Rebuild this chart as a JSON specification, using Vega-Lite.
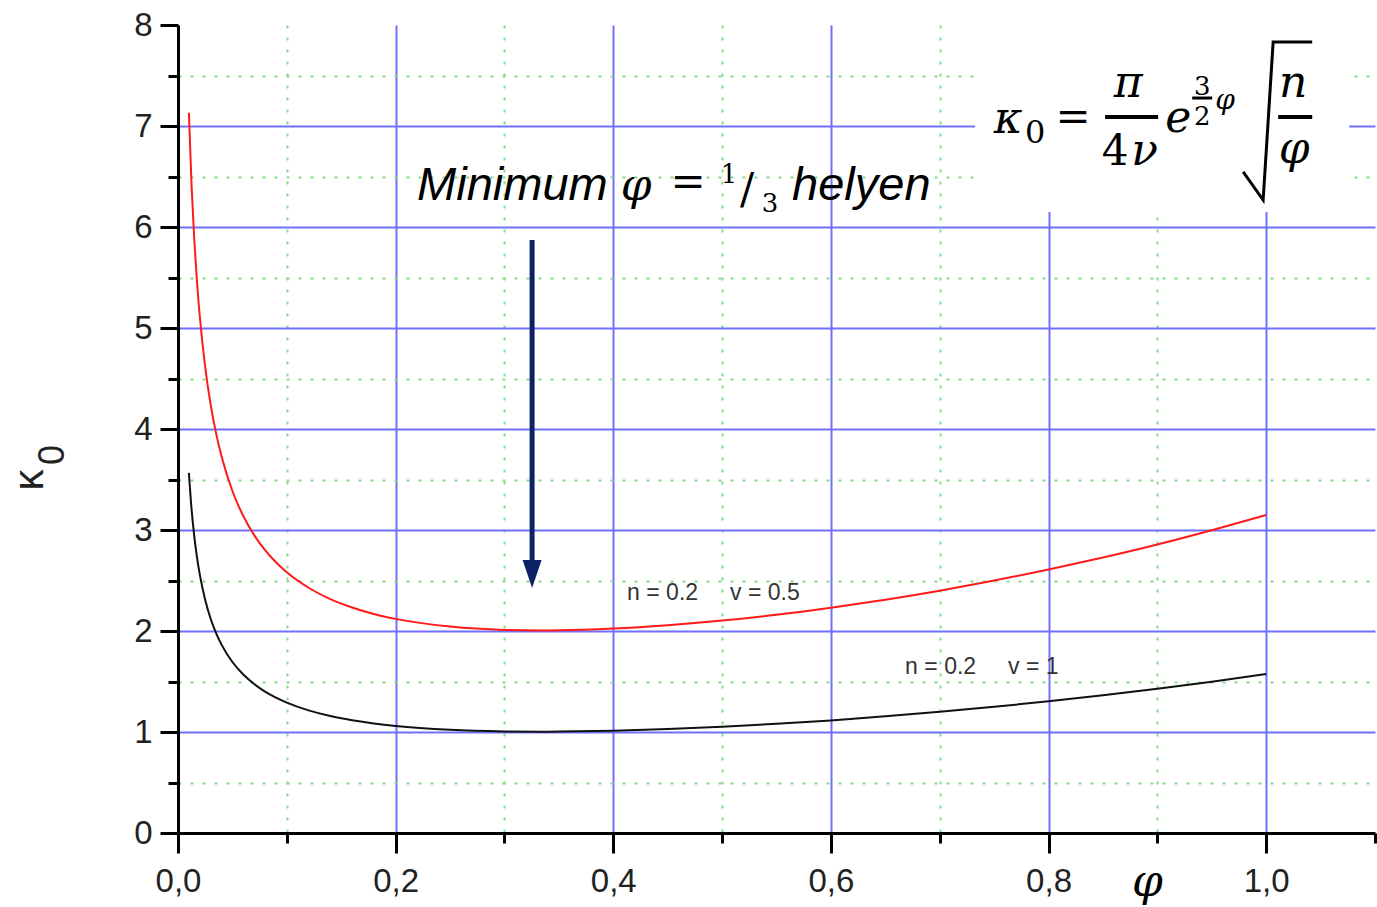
{
  "$schema": "https://vega.github.io/schema/vega-lite/v6.json",
  "width": 1197,
  "height": 808,
  "autosize": {"type": "none"},
  "padding": {"left": 178, "top": 25, "right": 2, "bottom": 74},
  "background": "white",
  "config": {"view": {"stroke": null}},
  "resolve": {"axis": {"x": "independent", "y": "independent"}},
  "datasets": {
    "curves": [
      {"phi": 0.01, "k": 7.131, "s": "n = 0.2, v = 0.5"},
      {"phi": 0.0125, "k": 6.402, "s": "n = 0.2, v = 0.5"},
      {"phi": 0.015, "k": 5.866, "s": "n = 0.2, v = 0.5"},
      {"phi": 0.0175, "k": 5.451, "s": "n = 0.2, v = 0.5"},
      {"phi": 0.02, "k": 5.119, "s": "n = 0.2, v = 0.5"},
      {"phi": 0.025, "k": 4.613, "s": "n = 0.2, v = 0.5"},
      {"phi": 0.03, "k": 4.242, "s": "n = 0.2, v = 0.5"},
      {"phi": 0.035, "k": 3.957, "s": "n = 0.2, v = 0.5"},
      {"phi": 0.04, "k": 3.73, "s": "n = 0.2, v = 0.5"},
      {"phi": 0.05, "k": 3.386, "s": "n = 0.2, v = 0.5"},
      {"phi": 0.06, "k": 3.138, "s": "n = 0.2, v = 0.5"},
      {"phi": 0.07, "k": 2.949, "s": "n = 0.2, v = 0.5"},
      {"phi": 0.08, "k": 2.8, "s": "n = 0.2, v = 0.5"},
      {"phi": 0.09, "k": 2.68, "s": "n = 0.2, v = 0.5"},
      {"phi": 0.1, "k": 2.581, "s": "n = 0.2, v = 0.5"},
      {"phi": 0.12, "k": 2.428, "s": "n = 0.2, v = 0.5"},
      {"phi": 0.14, "k": 2.316, "s": "n = 0.2, v = 0.5"},
      {"phi": 0.16, "k": 2.233, "s": "n = 0.2, v = 0.5"},
      {"phi": 0.18, "k": 2.169, "s": "n = 0.2, v = 0.5"},
      {"phi": 0.2, "k": 2.12, "s": "n = 0.2, v = 0.5"},
      {"phi": 0.25, "k": 2.044, "s": "n = 0.2, v = 0.5"},
      {"phi": 0.3, "k": 2.011, "s": "n = 0.2, v = 0.5"},
      {"phi": 0.3333, "k": 2.006, "s": "n = 0.2, v = 0.5"},
      {"phi": 0.35, "k": 2.007, "s": "n = 0.2, v = 0.5"},
      {"phi": 0.4, "k": 2.024, "s": "n = 0.2, v = 0.5"},
      {"phi": 0.45, "k": 2.057, "s": "n = 0.2, v = 0.5"},
      {"phi": 0.5, "k": 2.103, "s": "n = 0.2, v = 0.5"},
      {"phi": 0.55, "k": 2.161, "s": "n = 0.2, v = 0.5"},
      {"phi": 0.6, "k": 2.231, "s": "n = 0.2, v = 0.5"},
      {"phi": 0.65, "k": 2.31, "s": "n = 0.2, v = 0.5"},
      {"phi": 0.7, "k": 2.399, "s": "n = 0.2, v = 0.5"},
      {"phi": 0.75, "k": 2.499, "s": "n = 0.2, v = 0.5"},
      {"phi": 0.8, "k": 2.608, "s": "n = 0.2, v = 0.5"},
      {"phi": 0.85, "k": 2.727, "s": "n = 0.2, v = 0.5"},
      {"phi": 0.9, "k": 2.856, "s": "n = 0.2, v = 0.5"},
      {"phi": 0.95, "k": 2.997, "s": "n = 0.2, v = 0.5"},
      {"phi": 1.0, "k": 3.148, "s": "n = 0.2, v = 0.5"},
      {"phi": 0.01, "k": 3.566, "s": "n = 0.2, v = 1"},
      {"phi": 0.0125, "k": 3.201, "s": "n = 0.2, v = 1"},
      {"phi": 0.015, "k": 2.933, "s": "n = 0.2, v = 1"},
      {"phi": 0.0175, "k": 2.726, "s": "n = 0.2, v = 1"},
      {"phi": 0.02, "k": 2.56, "s": "n = 0.2, v = 1"},
      {"phi": 0.025, "k": 2.307, "s": "n = 0.2, v = 1"},
      {"phi": 0.03, "k": 2.121, "s": "n = 0.2, v = 1"},
      {"phi": 0.035, "k": 1.979, "s": "n = 0.2, v = 1"},
      {"phi": 0.04, "k": 1.865, "s": "n = 0.2, v = 1"},
      {"phi": 0.05, "k": 1.693, "s": "n = 0.2, v = 1"},
      {"phi": 0.06, "k": 1.569, "s": "n = 0.2, v = 1"},
      {"phi": 0.07, "k": 1.475, "s": "n = 0.2, v = 1"},
      {"phi": 0.08, "k": 1.4, "s": "n = 0.2, v = 1"},
      {"phi": 0.09, "k": 1.34, "s": "n = 0.2, v = 1"},
      {"phi": 0.1, "k": 1.291, "s": "n = 0.2, v = 1"},
      {"phi": 0.12, "k": 1.214, "s": "n = 0.2, v = 1"},
      {"phi": 0.14, "k": 1.158, "s": "n = 0.2, v = 1"},
      {"phi": 0.16, "k": 1.117, "s": "n = 0.2, v = 1"},
      {"phi": 0.18, "k": 1.085, "s": "n = 0.2, v = 1"},
      {"phi": 0.2, "k": 1.06, "s": "n = 0.2, v = 1"},
      {"phi": 0.25, "k": 1.022, "s": "n = 0.2, v = 1"},
      {"phi": 0.3, "k": 1.006, "s": "n = 0.2, v = 1"},
      {"phi": 0.3333, "k": 1.003, "s": "n = 0.2, v = 1"},
      {"phi": 0.35, "k": 1.004, "s": "n = 0.2, v = 1"},
      {"phi": 0.4, "k": 1.012, "s": "n = 0.2, v = 1"},
      {"phi": 0.45, "k": 1.029, "s": "n = 0.2, v = 1"},
      {"phi": 0.5, "k": 1.052, "s": "n = 0.2, v = 1"},
      {"phi": 0.55, "k": 1.081, "s": "n = 0.2, v = 1"},
      {"phi": 0.6, "k": 1.115, "s": "n = 0.2, v = 1"},
      {"phi": 0.65, "k": 1.155, "s": "n = 0.2, v = 1"},
      {"phi": 0.7, "k": 1.2, "s": "n = 0.2, v = 1"},
      {"phi": 0.75, "k": 1.249, "s": "n = 0.2, v = 1"},
      {"phi": 0.8, "k": 1.304, "s": "n = 0.2, v = 1"},
      {"phi": 0.85, "k": 1.363, "s": "n = 0.2, v = 1"},
      {"phi": 0.9, "k": 1.428, "s": "n = 0.2, v = 1"},
      {"phi": 0.95, "k": 1.498, "s": "n = 0.2, v = 1"},
      {"phi": 1.0, "k": 1.574, "s": "n = 0.2, v = 1"}
    ],
    "box": [{"x": 0.7325, "x2": 1.0763, "y": 8, "y2": 6.149}],
    "txt": [
      {"x": 0.2197, "y": 6.267, "t": "Minimum", "g": "sans"},
      {"x": 0.5643, "y": 6.267, "t": "helyen", "g": "sans"},
      {"x": 0.421, "y": 6.267, "t": "φ", "g": "it"},
      {"x": 0.7628, "y": 6.931, "t": "κ", "g": "it"},
      {"x": 0.8732, "y": 7.287, "t": "π", "g": "it"},
      {"x": 0.8884, "y": 6.614, "t": "ν", "g": "it"},
      {"x": 0.9191, "y": 6.941, "t": "e", "g": "it"},
      {"x": 1.0248, "y": 7.287, "t": "n", "g": "it"},
      {"x": 1.0257, "y": 6.634, "t": "φ", "g": "it"},
      {"x": 0.4688, "y": 6.307, "t": "=", "g": "up"},
      {"x": 0.8226, "y": 6.95, "t": "=", "g": "up"},
      {"x": 0.8612, "y": 6.614, "t": "4", "g": "up"},
      {"x": 0.523, "y": 6.238, "t": "/", "g": "up"},
      {"x": 0.7878, "y": 6.832, "t": "0", "g": "sub"},
      {"x": 0.5064, "y": 6.436, "t": "1", "g": "sm"},
      {"x": 0.5441, "y": 6.149, "t": "3", "g": "sm"},
      {"x": 0.9412, "y": 7.307, "t": "3", "g": "sm"},
      {"x": 0.9412, "y": 7.01, "t": "2", "g": "sm"},
      {"x": 0.9623, "y": 7.168, "t": "φ", "g": "smit"},
      {"x": 0.4127, "y": 2.307, "t": "n = 0.2\u00a0\u00a0\u00a0\u00a0\u00a0v = 0.5", "g": "lab"},
      {"x": 0.6682, "y": 1.574, "t": "n = 0.2\u00a0\u00a0\u00a0\u00a0\u00a0v = 1", "g": "lab"},
      {"x": -0.1241, "y": 3.495, "t": "κ", "g": "yk"},
      {"x": -0.1048, "y": 3.743, "t": "0", "g": "y0"}
    ],
    "bars": [
      {"x": 0.852, "x2": 0.9007, "y": 7.089, "g": "big"},
      {"x": 1.011, "x2": 1.0423, "y": 7.089, "g": "big"},
      {"x": 0.932, "x2": 0.9504, "y": 7.277, "g": "small"}
    ],
    "radical": [
      {"x": 0.9789, "y": 6.545, "o": 1},
      {"x": 0.9972, "y": 6.267, "o": 2},
      {"x": 1.0064, "y": 7.832, "o": 3},
      {"x": 1.0423, "y": 7.832, "o": 4}
    ],
    "arrow": [{"x": 0.3254, "y": 5.871, "y2": 2.6, "tip": 2.564}]
  },
  "layer": [
    {
      "data": {"name": "curves"},
      "mark": {"type": "line", "strokeWidth": 2, "interpolate": "monotone"},
      "encoding": {
        "x": {
          "field": "phi", "type": "quantitative",
          "scale": {"domain": [0, 1.1], "nice": false, "zero": false},
          "axis": {
            "values": [0, 0.1, 0.2, 0.3, 0.4, 0.5, 0.6, 0.7, 0.8, 0.9, 1.0, 1.1],
            "format": ".1f",
            "labelExpr": "abs(datum.value*5-round(datum.value*5))<0.001 ? replace(datum.label,'.',',') : ''",
            "title": "φ",
            "titleFont": "DejaVu Serif", "titleFontStyle": "italic", "titleFontSize": 44, "titleFontWeight": "normal", "titleColor": "black",
            "titleX": 969, "titleY": 62, "titleBaseline": "alphabetic", "titleAlign": "center",
            "grid": true,
            "gridColor": {"condition": {"test": "abs(datum.value*5-round(datum.value*5))>=0.001", "value": "#86dc86"}, "value": "#7070ff"},
            "gridDash": {"condition": {"test": "abs(datum.value*5-round(datum.value*5))>=0.001", "value": [3, 9]}, "value": []},
            "gridOpacity": {"condition": {"test": "datum.value>1.05 || datum.value<0.05", "value": 0}, "value": 1},
            "gridWidth": 2,
            "tickSize": {"condition": {"test": "abs(datum.value*5-round(datum.value*5))<0.001", "value": 20}, "value": 10},
            "tickWidth": 3, "tickColor": "black",
            "domainColor": "black", "domainWidth": 3,
            "labelFont": "Liberation Sans", "labelFontSize": 33, "labelColor": "#222", "labelPadding": 12,
            "labelFlush": false, "labelOverlap": false, "labelBound": false
          }
        },
        "y": {
          "field": "k", "type": "quantitative",
          "scale": {"domain": [0, 8], "nice": false, "zero": false},
          "axis": {
            "values": [0, 0.5, 1, 1.5, 2, 2.5, 3, 3.5, 4, 4.5, 5, 5.5, 6, 6.5, 7, 7.5, 8],
            "format": ".0f",
            "labelExpr": "datum.value % 1 === 0 ? datum.label : ''",
            "title": null,
            "grid": true,
            "gridColor": {"condition": {"test": "datum.value % 1 !== 0", "value": "#86dc86"}, "value": "#7070ff"},
            "gridDash": {"condition": {"test": "datum.value % 1 !== 0", "value": [3, 9]}, "value": []},
            "gridOpacity": {"condition": {"test": "datum.value > 7.9 || datum.value < 0.1", "value": 0}, "value": 1},
            "gridWidth": 2,
            "tickSize": {"condition": {"test": "datum.value % 1 === 0", "value": 18}, "value": 10},
            "tickWidth": 3, "tickColor": "black",
            "domainColor": "black", "domainWidth": 3,
            "labelFont": "Liberation Sans", "labelFontSize": 33, "labelColor": "#222", "labelPadding": 8,
            "labelFlush": false, "labelOverlap": false, "labelBound": false
          }
        },
        "color": {
          "field": "s", "type": "nominal",
          "scale": {"domain": ["n = 0.2, v = 0.5", "n = 0.2, v = 1"], "range": ["#ff1a1a", "#111111"]},
          "legend": null
        }
      }
    },
    {
      "data": {"name": "box"},
      "mark": {"type": "rect", "color": "white"},
      "encoding": {
        "x": {"field": "x", "type": "quantitative", "axis": null},
        "x2": {"field": "x2"},
        "y": {"field": "y", "type": "quantitative", "axis": null},
        "y2": {"field": "y2"}
      }
    },
    {
      "data": {"name": "arrow"},
      "mark": {"type": "rule", "strokeWidth": 5, "color": "#0d2266"},
      "encoding": {
        "x": {"field": "x", "type": "quantitative", "axis": null},
        "y": {"field": "y", "type": "quantitative", "axis": null},
        "y2": {"field": "y2"}
      }
    },
    {
      "data": {"name": "arrow"},
      "mark": {"type": "point", "filled": true, "shape": "M-0.68,-1L0.68,-1L0,1Z", "size": 784, "color": "#0d2266", "opacity": 1},
      "encoding": {
        "x": {"field": "x", "type": "quantitative", "axis": null},
        "y": {"field": "tip", "type": "quantitative", "axis": null}
      }
    },
    {
      "data": {"name": "txt"},
      "transform": [{"filter": "datum.g === 'sans'"}],
      "mark": {"type": "text", "font": "Liberation Sans", "fontStyle": "italic", "fontSize": 47, "align": "left", "baseline": "alphabetic", "color": "black"},
      "encoding": {
        "x": {"field": "x", "type": "quantitative", "axis": null},
        "y": {"field": "y", "type": "quantitative", "axis": null},
        "text": {"field": "t"}
      }
    },
    {
      "data": {"name": "txt"},
      "transform": [{"filter": "datum.g === 'it'"}],
      "mark": {"type": "text", "font": "DejaVu Serif", "fontStyle": "italic", "fontSize": 44, "align": "center", "baseline": "alphabetic", "color": "black"},
      "encoding": {
        "x": {"field": "x", "type": "quantitative", "axis": null},
        "y": {"field": "y", "type": "quantitative", "axis": null},
        "text": {"field": "t"}
      }
    },
    {
      "data": {"name": "txt"},
      "transform": [{"filter": "datum.g === 'up'"}],
      "mark": {"type": "text", "font": "DejaVu Serif", "fontSize": 42, "align": "center", "baseline": "alphabetic", "color": "black"},
      "encoding": {
        "x": {"field": "x", "type": "quantitative", "axis": null},
        "y": {"field": "y", "type": "quantitative", "axis": null},
        "text": {"field": "t"}
      }
    },
    {
      "data": {"name": "txt"},
      "transform": [{"filter": "datum.g === 'sub'"}],
      "mark": {"type": "text", "font": "DejaVu Serif", "fontSize": 32, "align": "center", "baseline": "alphabetic", "color": "black"},
      "encoding": {
        "x": {"field": "x", "type": "quantitative", "axis": null},
        "y": {"field": "y", "type": "quantitative", "axis": null},
        "text": {"field": "t"}
      }
    },
    {
      "data": {"name": "txt"},
      "transform": [{"filter": "datum.g === 'sm'"}],
      "mark": {"type": "text", "font": "DejaVu Serif", "fontSize": 26, "align": "center", "baseline": "alphabetic", "color": "black"},
      "encoding": {
        "x": {"field": "x", "type": "quantitative", "axis": null},
        "y": {"field": "y", "type": "quantitative", "axis": null},
        "text": {"field": "t"}
      }
    },
    {
      "data": {"name": "txt"},
      "transform": [{"filter": "datum.g === 'smit'"}],
      "mark": {"type": "text", "font": "DejaVu Serif", "fontStyle": "italic", "fontSize": 28, "align": "center", "baseline": "alphabetic", "color": "black"},
      "encoding": {
        "x": {"field": "x", "type": "quantitative", "axis": null},
        "y": {"field": "y", "type": "quantitative", "axis": null},
        "text": {"field": "t"}
      }
    },
    {
      "data": {"name": "txt"},
      "transform": [{"filter": "datum.g === 'lab'"}],
      "mark": {"type": "text", "font": "Liberation Sans", "fontSize": 23, "align": "left", "baseline": "alphabetic", "color": "#333"},
      "encoding": {
        "x": {"field": "x", "type": "quantitative", "axis": null},
        "y": {"field": "y", "type": "quantitative", "axis": null},
        "text": {"field": "t"}
      }
    },
    {
      "data": {"name": "txt"},
      "transform": [{"filter": "datum.g === 'yk'"}],
      "mark": {"type": "text", "font": "Liberation Sans", "fontSize": 42, "angle": 270, "align": "center", "baseline": "alphabetic", "color": "#222"},
      "encoding": {
        "x": {"field": "x", "type": "quantitative", "axis": null},
        "y": {"field": "y", "type": "quantitative", "axis": null},
        "text": {"field": "t"}
      }
    },
    {
      "data": {"name": "txt"},
      "transform": [{"filter": "datum.g === 'y0'"}],
      "mark": {"type": "text", "font": "Liberation Sans", "fontSize": 36, "angle": 270, "align": "center", "baseline": "alphabetic", "color": "#222"},
      "encoding": {
        "x": {"field": "x", "type": "quantitative", "axis": null},
        "y": {"field": "y", "type": "quantitative", "axis": null},
        "text": {"field": "t"}
      }
    },
    {
      "data": {"name": "bars"},
      "transform": [{"filter": "datum.g === 'big'"}],
      "mark": {"type": "rule", "strokeWidth": 4, "color": "black"},
      "encoding": {
        "x": {"field": "x", "type": "quantitative", "axis": null},
        "x2": {"field": "x2"},
        "y": {"field": "y", "type": "quantitative", "axis": null}
      }
    },
    {
      "data": {"name": "bars"},
      "transform": [{"filter": "datum.g === 'small'"}],
      "mark": {"type": "rule", "strokeWidth": 3, "color": "black"},
      "encoding": {
        "x": {"field": "x", "type": "quantitative", "axis": null},
        "x2": {"field": "x2"},
        "y": {"field": "y", "type": "quantitative", "axis": null}
      }
    },
    {
      "data": {"name": "radical"},
      "mark": {"type": "line", "strokeWidth": 3, "color": "black", "strokeJoin": "miter"},
      "encoding": {
        "x": {"field": "x", "type": "quantitative", "axis": null},
        "y": {"field": "y", "type": "quantitative", "axis": null},
        "order": {"field": "o", "type": "quantitative"}
      }
    }
  ]
}
